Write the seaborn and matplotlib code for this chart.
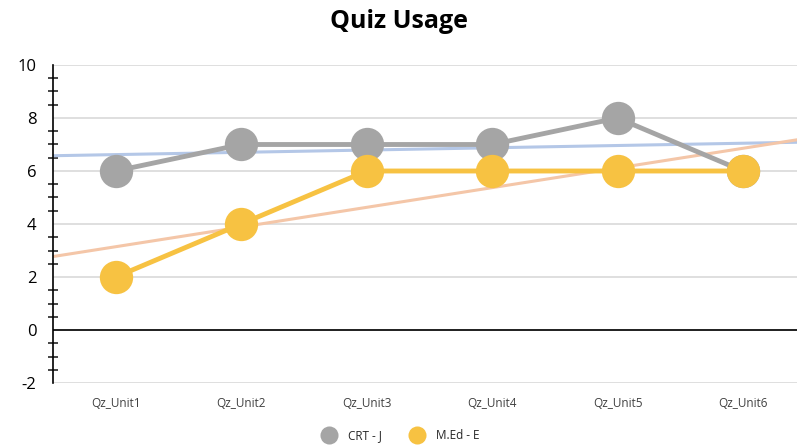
import numpy as np
import pandas as pd
import matplotlib
matplotlib.use("Agg")
import matplotlib.pyplot as plt
from matplotlib.lines import Line2D
from matplotlib.ticker import MultipleLocator
import seaborn as sns

units = ["Qz_Unit1", "Qz_Unit2", "Qz_Unit3", "Qz_Unit4", "Qz_Unit5", "Qz_Unit6"]
crt_j = [6, 7, 7, 7, 8, 6]
med_e = [2, 4, 6, 6, 6, 6]
series_names = ["CRT - J", "M.Ed - E"]

gray = "#a5a5a5"
gold = "#f7c242"
trend_colors = ["#b4c7e7", "#f4c6a8"]

sns.set_style("white")
plt.rcParams["font.family"] = ["Open Sans", "DejaVu Sans"]
plt.rcParams["axes.unicode_minus"] = False

x = np.arange(1, len(units) + 1)
df = pd.DataFrame({
    "x": np.concatenate([x, x]),
    "value": crt_j + med_e,
    "series": [series_names[0]] * len(x) + [series_names[1]] * len(x),
})

fig = plt.figure(figsize=(7.97, 4.48), dpi=100)
ax = fig.add_axes([53 / 797, 65 / 448, (805.7 - 53) / 797, 318 / 448])

# linear trendlines (drawn under the series)
xx = np.array([0.5, 6.5])
for vals, c in zip([crt_j, med_e], trend_colors):
    k, b = np.polyfit(x, vals, 1)
    ax.plot(xx, k * xx + b, color=c, lw=2.2, zorder=2, solid_capstyle="butt")

sns.lineplot(data=df, x="x", y="value", hue="series", palette=[gray, gold],
             marker="o", markersize=24, markeredgewidth=0, linewidth=3.5,
             ax=ax, legend=False, zorder=3)

ax.set_xlim(0.5, 6.5)
ax.set_ylim(-2, 10)
ax.yaxis.set_major_locator(MultipleLocator(2))
ax.yaxis.set_minor_locator(MultipleLocator(0.5))
ax.grid(axis="y", which="major", color="#d9d9d9", lw=1.2, zorder=0)
ax.axhline(0, color="black", lw=1.2, zorder=1)

for s in ["top", "right", "bottom"]:
    ax.spines[s].set_visible(False)
ax.spines["left"].set_color("black")
ax.spines["left"].set_linewidth(1.2)

ax.set_xticks(x)
ax.set_xticklabels(units, fontsize=8.5, color="#404040")
ax.tick_params(axis="x", length=0, pad=10)
ax.tick_params(axis="y", which="major", direction="inout", length=12, width=1.2,
               labelsize=12, colors="black", pad=6)
ax.tick_params(axis="y", which="minor", direction="inout", length=7, width=1.2, left=True)
ax.set_xlabel("")
ax.set_ylabel("")

fig.text(0.5, 0.952, "Quiz Usage", ha="center", va="center", fontsize=18,
         fontweight="bold", color="black")

handles = [Line2D([], [], marker="o", linestyle="none", markersize=13,
                  markerfacecolor=c, markeredgewidth=0) for c in [gray, gold]]
fig.legend(handles, series_names, loc="center", bbox_to_anchor=(0.5, 0.027),
           ncol=2, frameon=False, fontsize=8.5, handletextpad=0.6, columnspacing=2.0)

fig.savefig("out.png", dpi=100)
